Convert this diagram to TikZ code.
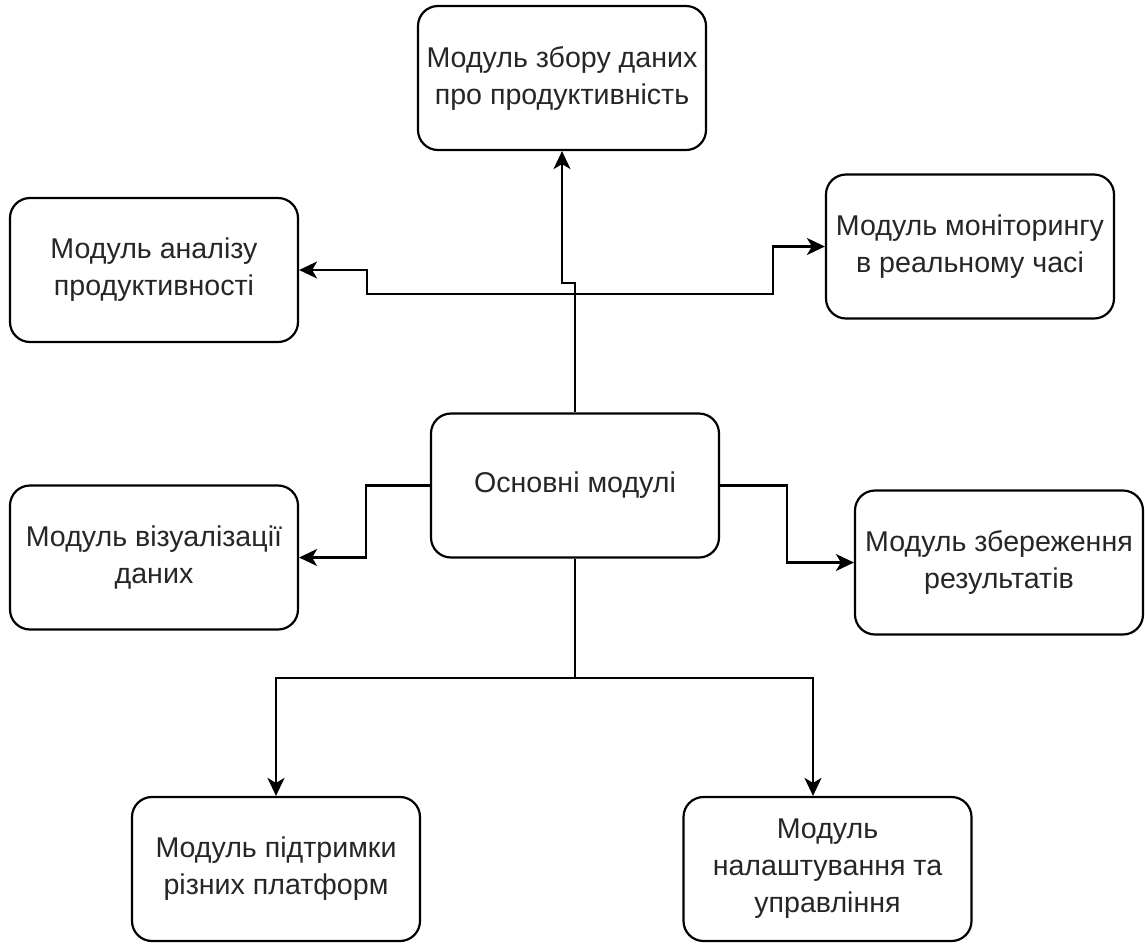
\documentclass[tikz,border=0pt]{standalone}
\usepackage{fontspec}
\setmainfont{Liberation Sans}
\usetikzlibrary{arrows.meta}
\begin{document}
\begin{tikzpicture}[x=0.5pt,y=-0.5pt,
  box/.style={draw=black, line width=1.1pt, rounded corners=10pt, minimum width=144pt, minimum height=72pt, align=center, inner sep=2pt, font=\fontsize{14.3pt}{18.5pt}\selectfont, text=black!85},
  conn/.style={draw=black, line width=1.1pt},
  arr/.style={conn, -{Stealth[length=9pt,width=8.5pt,inset=2.5pt]}}]
\useasboundingbox (0,0) rectangle (1145,943);
\node[box] (top) at (562,78) {Модуль збору даних\\про продуктивність};
\node[box] (an) at (154,270) {Модуль аналізу\\продуктивності};
\node[box] (mon) at (970,246.5) {Модуль моніторингу\\в реальному часі};
\node[box] (c) at (575,485.5) {Основні модулі};
\node[box] (vis) at (154,557.5) {Модуль візуалізації\\даних};
\node[box] (st) at (999,562.5) {Модуль збереження\\результатів};
\node[box] (pl) at (276,869) {Модуль підтримки\\різних платформ};
\node[box] (set) at (827.5,869) {Модуль\\налаштування та\\управління};
\coordinate (j1) at (575,283);
\coordinate (j2) at (575,294);
\coordinate (ka) at (367,270);
\coordinate (km) at (773,246.5);
\coordinate (kv) at (366,557.5);
\coordinate (ks) at (787,562.5);
\coordinate (jb) at (575,678);
\draw[arr] (c.north) -- (j1) -| (top.south);
\draw[arr] (j2) -| (ka) -- (an.east);
\draw[arr] (j2) -| (km) -- (mon.west);
\draw[arr] (c.west) -| (kv) -- (vis.east);
\draw[arr] (c.east) -| (ks) -- (st.west);
\draw[conn] (c.south) -- (jb);
\draw[arr] (jb) -| (pl.north);
\draw[arr] (jb) -| ([xshift=-7.25pt]set.north);
\end{tikzpicture}
\end{document}
